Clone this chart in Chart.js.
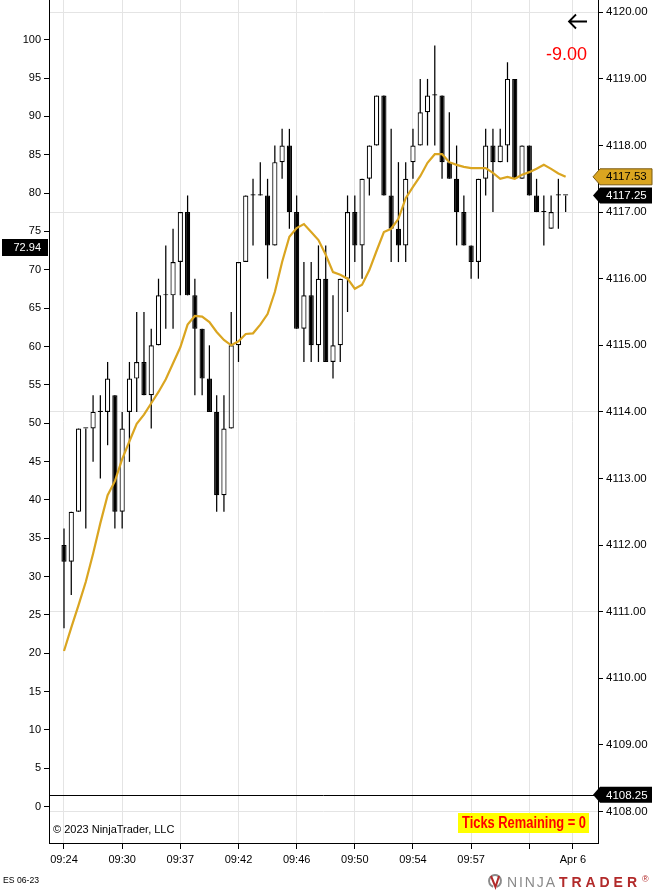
<!DOCTYPE html>
<html>
<head>
<meta charset="utf-8">
<title>ES 06-23</title>
<script src="https://cdn.jsdelivr.net/npm/chart.js"></script>
<style>
    html, body { margin: 0; padding: 0; background: #fff; }
    #chart { display: block; }
</style>
</head>
<body>
<canvas id="chart" width="654" height="890"></canvas>
<script>
// --- Data (one entry per bar) ---
const opens = [4112.00, 4111.75, 4112.50, 4113.75, 4113.75, 4114.00, 4114.00, 4114.25, 4112.50, 4114.00,
    4114.50, 4114.75, 4114.25, 4115.00, 4115.75, 4115.75, 4116.25, 4117.00, 4115.75, 4115.25,
    4114.50, 4114.00, 4112.75, 4113.75, 4115.00, 4116.25, 4117.25, 4117.25, 4117.25, 4116.50,
    4117.75, 4118.00, 4117.00, 4115.25, 4115.75, 4115.00, 4116.00, 4114.75, 4115.00, 4116.00,
    4117.00, 4116.50, 4117.50, 4118.00, 4118.75, 4117.25, 4116.75, 4116.50, 4117.75, 4118.00,
    4118.50, 4118.75, 4118.75, 4117.75, 4117.50, 4117.00, 4116.50, 4116.25, 4117.50, 4118.00,
    4117.75, 4118.00, 4119.00, 4117.50, 4118.00, 4117.25, 4117.00, 4116.75, 4117.25, 4117.25];
const highs = [4112.25, 4112.50, 4113.75, 4113.75, 4114.25, 4114.25, 4114.75, 4114.25, 4114.00, 4114.75,
    4115.50, 4115.50, 4115.25, 4116.00, 4116.50, 4116.75, 4117.00, 4117.25, 4116.00, 4115.25,
    4115.00, 4114.25, 4114.25, 4115.50, 4116.25, 4117.25, 4117.50, 4117.75, 4117.50, 4118.00,
    4118.25, 4118.25, 4117.25, 4116.25, 4116.25, 4116.50, 4116.50, 4115.75, 4116.00, 4117.25,
    4117.25, 4117.50, 4118.00, 4118.75, 4118.75, 4118.25, 4117.75, 4117.75, 4118.25, 4119.00,
    4119.00, 4119.50, 4118.75, 4118.50, 4118.00, 4117.25, 4116.50, 4117.50, 4118.25, 4118.25,
    4118.25, 4119.25, 4119.00, 4118.00, 4118.00, 4117.50, 4117.25, 4117.25, 4117.50, 4117.25];
const lows = [4110.75, 4111.25, 4112.50, 4112.25, 4113.25, 4113.00, 4113.50, 4112.25, 4112.25, 4113.25,
    4114.00, 4114.25, 4113.75, 4115.00, 4115.25, 4115.25, 4115.75, 4115.75, 4114.25, 4114.25,
    4114.00, 4112.50, 4112.50, 4113.75, 4114.75, 4116.25, 4116.50, 4117.25, 4116.00, 4116.50,
    4117.50, 4116.75, 4115.25, 4114.75, 4114.75, 4114.75, 4114.75, 4114.50, 4114.75, 4115.50,
    4116.25, 4116.00, 4117.25, 4118.00, 4117.25, 4116.25, 4116.25, 4116.25, 4117.50, 4118.00,
    4118.00, 4118.00, 4117.50, 4117.50, 4116.50, 4116.50, 4116.00, 4116.00, 4117.25, 4117.00,
    4117.75, 4117.75, 4117.50, 4117.50, 4117.25, 4117.00, 4116.50, 4116.75, 4116.75, 4117.00];
const closes = [4111.75, 4112.50, 4113.75, 4113.75, 4114.00, 4114.00, 4114.50, 4112.50, 4113.75, 4114.50,
    4114.75, 4114.25, 4115.00, 4115.75, 4115.75, 4116.25, 4117.00, 4115.75, 4115.25, 4114.50,
    4114.00, 4112.75, 4113.75, 4115.00, 4116.25, 4117.25, 4117.25, 4117.25, 4116.50, 4117.75,
    4118.00, 4117.00, 4115.25, 4115.75, 4115.00, 4116.00, 4114.75, 4115.00, 4116.00, 4117.00,
    4116.50, 4117.50, 4118.00, 4118.75, 4117.25, 4116.75, 4116.50, 4117.50, 4118.00, 4118.50,
    4118.75, 4118.75, 4117.75, 4117.50, 4117.00, 4116.50, 4116.25, 4117.50, 4118.00, 4117.75,
    4118.00, 4119.00, 4117.50, 4118.00, 4117.25, 4117.00, 4117.00, 4117.00, 4117.25, 4117.25];
// moving average plotted in gold
const maValues = [4110.41, 4110.76, 4111.10, 4111.45, 4111.87, 4112.33, 4112.75, 4112.96, 4113.29, 4113.56,
    4113.82, 4113.96, 4114.13, 4114.30, 4114.49, 4114.73, 4114.97, 4115.31, 4115.44, 4115.43,
    4115.35, 4115.20, 4115.08, 4115.00, 4115.06, 4115.17, 4115.18, 4115.31, 4115.47, 4115.80,
    4116.25, 4116.63, 4116.76, 4116.82, 4116.70, 4116.58, 4116.36, 4116.10, 4116.06, 4116.00,
    4115.85, 4115.91, 4116.13, 4116.42, 4116.70, 4116.75, 4116.90, 4117.21, 4117.38, 4117.54,
    4117.74, 4117.87, 4117.87, 4117.75, 4117.71, 4117.68, 4117.66, 4117.66, 4117.66, 4117.59,
    4117.50, 4117.53, 4117.50, 4117.56, 4117.60, 4117.65, 4117.71, 4117.65, 4117.58, 4117.53];

// x axis: bar number of each time label
const timeTickBars = [0, 8, 16, 24, 32, 40, 48, 56, 64, 70];
const timeTickLabels = ['09:24', '09:30', '09:37', '09:42', '09:46', '09:50', '09:54', '09:57', '', 'Apr 6'];
const priceTicks = [4108, 4109, 4110, 4111, 4112, 4113, 4114, 4115, 4116, 4117, 4118, 4119, 4120];
const leftTicks = [0, 5, 10, 15, 20, 25, 30, 35, 40, 45, 50, 55, 60, 65, 70, 75, 80, 85, 90, 95, 100];

// markers
const lastMa = 4117.53;
const lastClose = 4117.25;
const lineLevel = 4108.25;
const leftMarker = 72.94;
const plText = '-9.00';

// --- Style ---
const FONT = "'Liberation Sans', Arial, sans-serif";
const GOLD = '#DAA520';
const GRID = '#e4e4e4';

const barIndex = opens.map((_, i) => i);
const wickPoints = barIndex.map(i => ({ x: i, y: [lows[i], highs[i]] }));
const bodyPoints = barIndex.map(i => ({ x: i, y: [opens[i], closes[i]] }));
const bodyColors = barIndex.map(i => closes[i] > opens[i] ? '#ffffff' : '#000000');
const maPoints = barIndex.map(i => ({ x: i, y: maValues[i] }));

// --- Helpers ---
function zeroPadding(scale) {
    scale.paddingTop = 0;
    scale.paddingBottom = 0;
    scale.paddingLeft = 0;
    scale.paddingRight = 0;
}

function drawPriceMarker(ctx, y, text, fill, textColor, stroke) {
    const tipX = 593, bodyX = 600, right = 652, h = 8;
    ctx.beginPath();
    ctx.moveTo(tipX, y);
    ctx.lineTo(bodyX, y - h);
    ctx.lineTo(right, y - h);
    ctx.lineTo(right, y + h);
    ctx.lineTo(bodyX, y + h);
    ctx.closePath();
    ctx.fillStyle = fill;
    ctx.fill();
    if (stroke) {
        ctx.strokeStyle = stroke;
        ctx.lineWidth = 1;
        ctx.stroke();
    }
    ctx.fillStyle = textColor;
    ctx.font = `11.5px ${FONT}`;
    ctx.textAlign = 'left';
    ctx.textBaseline = 'middle';
    ctx.fillText(text, 606, y + 0.5);
}

// squeeze / stretch a text to a given width
function fitText(ctx, text, x, y, width) {
    const w = ctx.measureText(text).width;
    ctx.save();
    ctx.translate(x, y);
    ctx.scale(width / w, 1);
    ctx.fillText(text, 0, 0);
    ctx.restore();
}

function drawSpaced(ctx, text, x0, width, y) {
    const widths = [...text].map(ch => ctx.measureText(ch).width);
    const total = widths.reduce((a, b) => a + b, 0);
    const gap = text.length > 1 ? (width - total) / (text.length - 1) : 0;
    let x = x0;
    [...text].forEach((ch, i) => {
        ctx.fillText(ch, x, y);
        x += widths[i] + gap;
    });
}

const overlayPlugin = {
    id: 'overlay',
    afterDatasetsDraw(chart) {
        const { ctx, chartArea, scales } = chart;
        const yLine = Math.round(scales.y.getPixelForValue(lineLevel)) + 0.5;
        ctx.save();
        ctx.strokeStyle = '#000';
        ctx.lineWidth = 1;
        ctx.beginPath();
        ctx.moveTo(chartArea.left, yLine);
        ctx.lineTo(chartArea.right, yLine);
        ctx.stroke();
        ctx.restore();
    },
    afterDraw(chart) {
        const { ctx, scales } = chart;
        ctx.save();

        // right axis markers
        drawPriceMarker(ctx, scales.y.getPixelForValue(lastMa), lastMa.toFixed(2), GOLD, '#000', '#7a5a10');
        drawPriceMarker(ctx, scales.y.getPixelForValue(lastClose), lastClose.toFixed(2), '#000', '#fff', null);
        drawPriceMarker(ctx, scales.y.getPixelForValue(lineLevel), lineLevel.toFixed(2), '#000', '#fff', null);

        // left axis marker
        const yl = scales.y2.getPixelForValue(leftMarker);
        ctx.fillStyle = '#000';
        ctx.fillRect(2, Math.round(yl) - 8, 46, 17);
        ctx.fillStyle = '#fff';
        ctx.font = `11px ${FONT}`;
        ctx.textAlign = 'right';
        ctx.textBaseline = 'middle';
        ctx.fillText(leftMarker.toFixed(2), 41, yl + 0.5);

        // back arrow
        ctx.strokeStyle = '#000';
        ctx.lineWidth = 1.8;
        ctx.beginPath();
        ctx.moveTo(587, 21.5);
        ctx.lineTo(569, 21.5);
        ctx.moveTo(576, 14.5);
        ctx.lineTo(569, 21.5);
        ctx.lineTo(576, 28.5);
        ctx.stroke();

        // profit / loss
        ctx.fillStyle = '#ff0000';
        ctx.font = `18px ${FONT}`;
        ctx.textAlign = 'right';
        ctx.textBaseline = 'alphabetic';
        ctx.fillText(plText, 587, 60);

        // copyright
        ctx.fillStyle = '#000';
        ctx.font = `11px ${FONT}`;
        ctx.textAlign = 'left';
        ctx.textBaseline = 'middle';
        ctx.fillText('\u00a9 2023 NinjaTrader, LLC', 53, 830);

        // ticks remaining box
        ctx.fillStyle = '#ffff00';
        ctx.fillRect(458, 813, 131, 20);
        ctx.fillStyle = '#ff0000';
        ctx.font = `bold 16px 'Liberation Sans Narrow', ${FONT}`;
        ctx.textAlign = 'left';
        ctx.textBaseline = 'middle';
        fitText(ctx, 'Ticks Remaining = 0', 462, 823.5, 124);

        // instrument name
        ctx.fillStyle = '#000';
        ctx.font = `9px ${FONT}`;
        fitText(ctx, 'ES 06-23', 3, 880.5, 36);

        // logo
        ctx.lineWidth = 2;
        ctx.strokeStyle = '#8a8a8a';
        ctx.beginPath();
        ctx.arc(495, 881, 6, Math.PI * 0.6, Math.PI * 2.4);
        ctx.stroke();
        ctx.strokeStyle = '#b22a2a';
        ctx.beginPath();
        ctx.moveTo(491, 876);
        ctx.lineTo(495.5, 887);
        ctx.lineTo(499, 876);
        ctx.stroke();

        ctx.textBaseline = 'alphabetic';
        ctx.font = `14px ${FONT}`;
        ctx.fillStyle = '#8a8a8a';
        drawSpaced(ctx, 'NINJA', 507, 48, 887);
        ctx.font = `bold 14px ${FONT}`;
        ctx.fillStyle = '#b22a2a';
        drawSpaced(ctx, 'TRADER', 559, 78, 887);
        ctx.font = `9px ${FONT}`;
        ctx.fillText('\u00ae', 642, 882);

        ctx.restore();
    }
};

// --- Chart ---
Chart.defaults.font.family = FONT;
Chart.defaults.font.size = 11;
Chart.defaults.color = '#000';

const ctx = document.getElementById('chart').getContext('2d');
new Chart(ctx, {
    type: 'bar',
    data: {
        datasets: [
            {
                type: 'line',
                label: 'MA',
                data: maPoints,
                borderColor: GOLD,
                borderWidth: 2.2,
                pointRadius: 0,
                tension: 0,
                yAxisID: 'y',
                order: 1
            },
            {
                type: 'bar',
                label: 'Bodies',
                data: bodyPoints,
                backgroundColor: bodyColors,
                borderColor: '#000',
                borderWidth: 1.2,
                borderSkipped: false,
                barThickness: 5.2,
                minBarLength: 1.2,
                inflateAmount: 0,
                grouped: false,
                yAxisID: 'y',
                order: 2
            },
            {
                type: 'bar',
                label: 'Wicks',
                data: wickPoints,
                backgroundColor: '#000',
                borderWidth: 0,
                barThickness: 1.25,
                inflateAmount: 0,
                grouped: false,
                yAxisID: 'y',
                order: 3
            }
        ]
    },
    options: {
        responsive: false,
        animation: false,
        layout: { padding: 0 },
        plugins: {
            legend: { display: false },
            tooltip: { enabled: false }
        },
        scales: {
            x: {
                type: 'linear',
                position: 'bottom',
                min: -2.063,
                max: 73.45,
                offset: false,
                afterBuildTicks: (scale) => { scale.ticks = timeTickBars.map(v => ({ value: v })); },
                afterFit: (scale) => { scale.height = 47; zeroPadding(scale); },
                ticks: {
                    autoSkip: false,
                    maxRotation: 0,
                    padding: 4,
                    font: { size: 11 },
                    callback: (value) => {
                        const k = timeTickBars.indexOf(value);
                        return k >= 0 ? timeTickLabels[k] : '';
                    }
                },
                grid: { color: GRID, tickColor: '#000', tickLength: 6, offset: false },
                border: { color: '#000', width: 1 }
            },
            y: {
                type: 'linear',
                position: 'right',
                min: 4107.527,
                max: 4120.185,
                afterBuildTicks: (scale) => { scale.ticks = priceTicks.map(v => ({ value: v })); },
                afterFit: (scale) => { scale.width = 56; zeroPadding(scale); },
                ticks: {
                    padding: 3,
                    font: { size: 11.5 },
                    callback: (value) => Number(value).toFixed(2)
                },
                grid: {
                    color: (c) => (c.tick && Math.round(4120 - c.tick.value) % 3 === 0) ? GRID : 'rgba(0,0,0,0)',
                    tickColor: '#000',
                    tickLength: 5
                },
                border: { color: '#000', width: 1 }
            },
            y2: {
                type: 'linear',
                position: 'left',
                min: -4.733,
                max: 105.176,
                afterBuildTicks: (scale) => { scale.ticks = leftTicks.map(v => ({ value: v })); },
                afterFit: (scale) => { scale.width = 49; zeroPadding(scale); },
                ticks: {
                    padding: 3,
                    font: { size: 11 },
                    callback: (value) => String(value)
                },
                grid: { drawOnChartArea: false, tickColor: '#000', tickLength: 5 },
                border: { color: '#000', width: 1 }
            }
        }
    },
    plugins: [overlayPlugin]
});
</script>
</body>
</html>
